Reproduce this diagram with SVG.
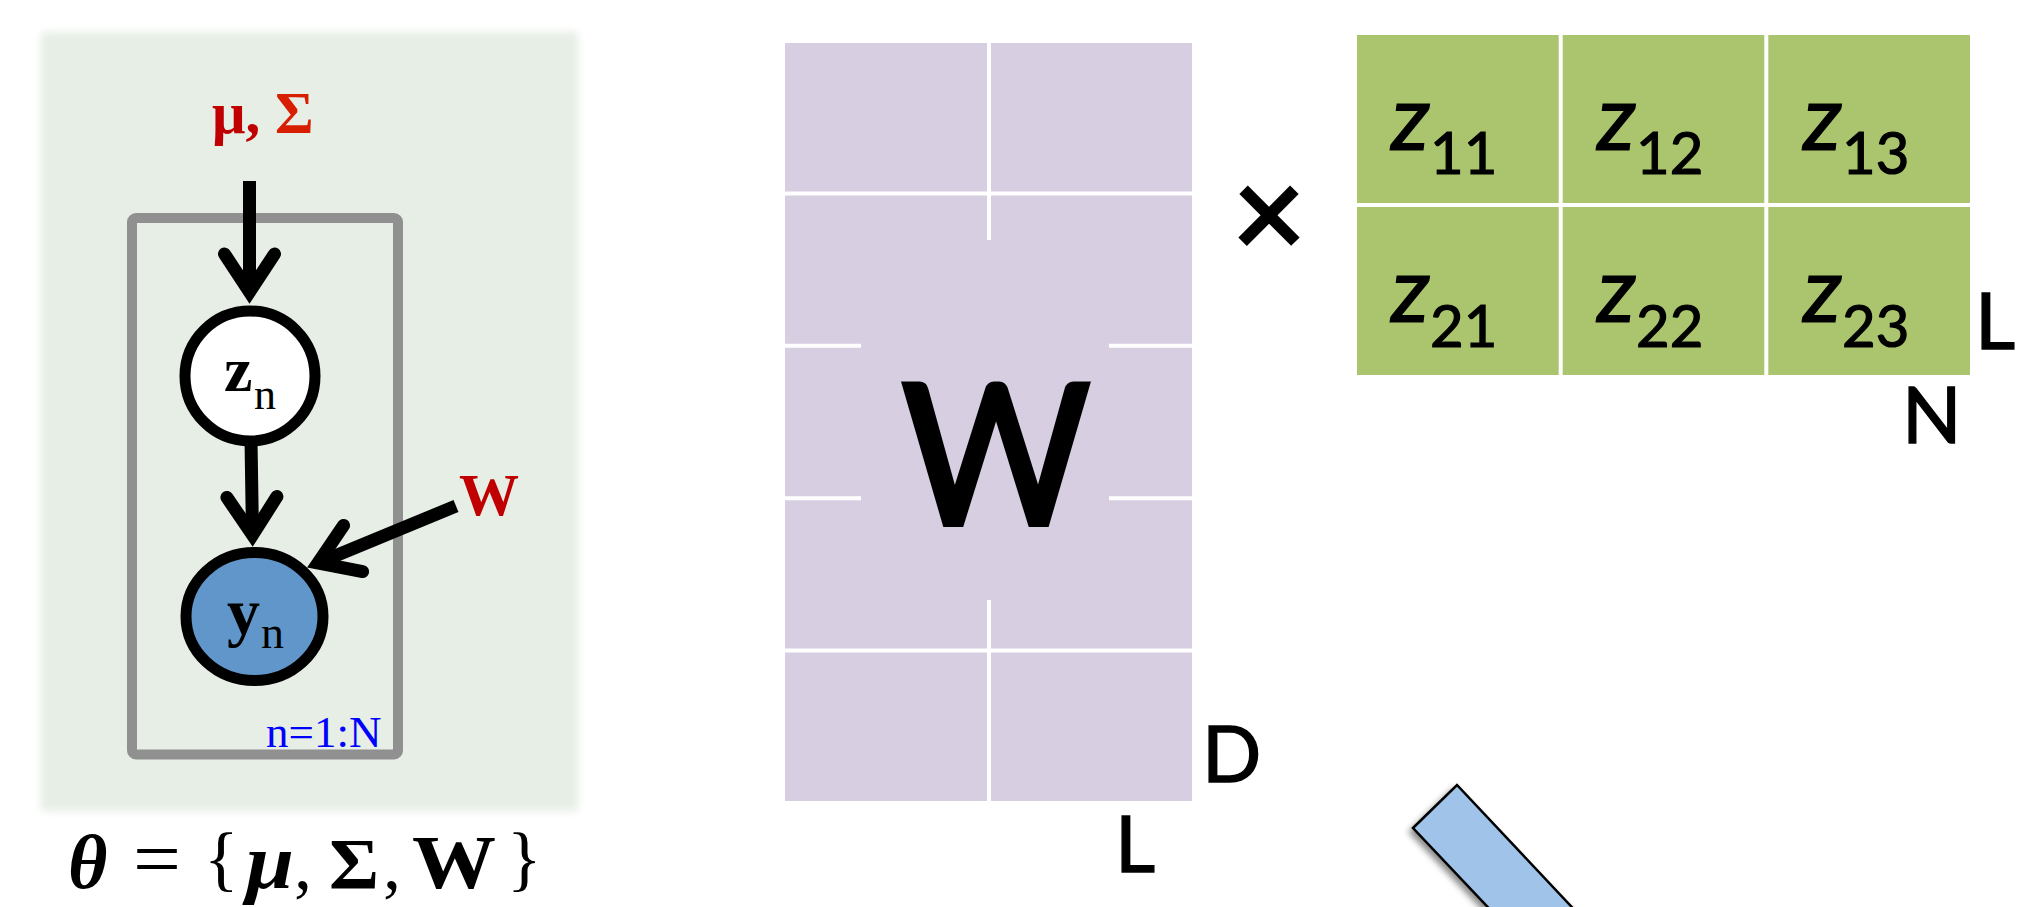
<svg xmlns="http://www.w3.org/2000/svg" width="2026" height="907" viewBox="0 0 2026 907">
<style>
.serif{font-family:"Liberation Serif","Times New Roman",serif}
.sans{font-family:Lato,"Open Sans","Liberation Sans",sans-serif}
.conn{stroke:#000;stroke-width:13;fill:none;marker-end:url(#chev)}
.cell-w{fill:#d7cee1}
.cell-z{fill:#abc46e}
.div{stroke:#fff;stroke-width:4}
.zlab{font-size:92px;font-style:italic;fill:#000;stroke:#000;stroke-width:1.2}
.sub{font-size:58px;font-style:normal}
.dim{font-size:78px;fill:#000;stroke:#000;stroke-width:1.4}
</style>
<defs>
<marker id="chev" markerUnits="userSpaceOnUse" orient="auto" refX="0" refY="0" markerWidth="100" markerHeight="100" viewBox="-60 -50 100 100" overflow="visible">
<path d="M-38,-25 L0,0 L-38,25" fill="none" stroke="#000" stroke-width="13" stroke-linecap="round" stroke-linejoin="miter"/>
</marker>
<filter id="soft" x="-5%" y="-5%" width="110%" height="110%"><feGaussianBlur stdDeviation="4"/></filter>
<filter id="shadow" x="-20%" y="-20%" width="140%" height="140%"><feDropShadow dx="-3" dy="4" stdDeviation="3" flood-color="#000" flood-opacity="0.45"/></filter>
</defs>
<rect width="2026" height="907" fill="#fff"/>

<!-- left graphical model -->
<rect id="panel-bg" x="41" y="32" width="537" height="779" fill="#e6eee5" filter="url(#soft)"/>
<g id="plate">
<rect x="132" y="218" width="266" height="536.5" rx="4" fill="none" stroke="#909090" stroke-width="10"/>
<text class="serif" x="266" y="747" font-size="45" fill="#0000ff">n=1:N</text>
</g>
<g id="connectors">
<line class="conn" x1="249.5" y1="181" x2="249.5" y2="292"/>
<line class="conn" x1="251" y1="440" x2="252.5" y2="535"/>
<line class="conn" x1="456" y1="506" x2="318" y2="563"/>
</g>
<g id="node-musigma">
<text class="serif" x="212" y="133" font-size="59" font-weight="bold"><tspan fill="#c00000">μ,</tspan><tspan fill="#d81e00"> Σ</tspan></text>
</g>
<g id="node-W">
<text class="serif" x="459" y="515" font-size="60" font-weight="bold" fill="#c00000">W</text>
</g>
<g id="node-z">
<circle cx="250" cy="376" r="65" fill="#fff" stroke="#000" stroke-width="11"/>
<text class="serif" x="224" y="391" font-size="64" font-weight="bold" fill="#000">z</text>
<text class="serif" x="254" y="409" font-size="44" fill="#000">n</text>
</g>
<g id="node-y">
<ellipse cx="254.5" cy="616.5" rx="68.5" ry="64" fill="#6096c9" stroke="#000" stroke-width="11"/>
<text class="serif" x="227" y="634" font-size="66" font-weight="bold" fill="#000">y</text>
<text class="serif" x="261" y="648" font-size="46" fill="#000">n</text>
</g>
<g id="formula" class="serif" fill="#000" font-size="72">
<text x="68" y="888" font-weight="bold" font-style="italic" font-size="76">θ</text>
<text x="133" y="886" font-size="80" textLength="48" lengthAdjust="spacingAndGlyphs">=</text>
<text x="204" y="882">{</text>
<text x="246" y="888" font-weight="bold" font-style="italic" font-size="78" textLength="48" lengthAdjust="spacingAndGlyphs">μ</text>
<text x="294" y="888">,</text>
<text x="329" y="888" font-weight="bold" textLength="50" lengthAdjust="spacingAndGlyphs">Σ</text>
<text x="383" y="888">,</text>
<text x="412" y="888" font-weight="bold" font-size="76" textLength="84" lengthAdjust="spacingAndGlyphs">W</text>
<text x="507" y="882">}</text>
</g>

<!-- W matrix -->
<g id="matrix-W">
<rect class="cell-w" x="785" y="43" width="407" height="758"/>
<line class="div" x1="785" y1="193.4" x2="1192" y2="193.4"/>
<line class="div" x1="785" y1="650.6" x2="1192" y2="650.6"/>
<line class="div" x1="785" y1="345.8" x2="861" y2="345.8"/>
<line class="div" x1="1109" y1="345.8" x2="1192" y2="345.8"/>
<line class="div" x1="785" y1="498.2" x2="861" y2="498.2"/>
<line class="div" x1="1109" y1="498.2" x2="1192" y2="498.2"/>
<line class="div" x1="989" y1="43" x2="989" y2="240"/>
<line class="div" x1="989" y1="600" x2="989" y2="801"/>
<text class="sans" x="902" y="524" font-size="194" textLength="188" lengthAdjust="spacingAndGlyphs" fill="#000" stroke="#000" stroke-width="6" stroke-linejoin="miter">W</text>
<text class="sans dim" x="1202" y="782">D</text>
<text class="sans dim" x="1115" y="872">L</text>
</g>

<g id="times">
<text class="sans" x="1269" y="259" font-size="130" font-weight="bold" text-anchor="middle" fill="#000">×</text>
</g>

<!-- Z matrix -->
<g id="matrix-Z" class="sans">
<rect class="cell-z" x="1357" y="35" width="201.7" height="168"/>
<rect class="cell-z" x="1562.7" y="35" width="201.6" height="168"/>
<rect class="cell-z" x="1768.3" y="35" width="201.7" height="168"/>
<rect class="cell-z" x="1357" y="207" width="201.7" height="168"/>
<rect class="cell-z" x="1562.7" y="207" width="201.6" height="168"/>
<rect class="cell-z" x="1768.3" y="207" width="201.7" height="168"/>
<text class="zlab" x="1391" y="150">z<tspan class="sub" dy="24">11</tspan></text>
<text class="zlab" x="1597" y="150">z<tspan class="sub" dy="24">12</tspan></text>
<text class="zlab" x="1803" y="150">z<tspan class="sub" dy="24">13</tspan></text>
<text class="zlab" x="1391" y="322">z<tspan class="sub" dy="25">21</tspan></text>
<text class="zlab" x="1597" y="322">z<tspan class="sub" dy="25">22</tspan></text>
<text class="zlab" x="1803" y="322">z<tspan class="sub" dy="25">23</tspan></text>
<text class="dim" x="1975" y="349">L</text>
<text class="dim" x="1902" y="443">N</text>
</g>

<!-- blue bar -->
<polygon id="bar" points="1413,828 1457,785 1584,920 1500,920" fill="#9fc3e9" stroke="#000" stroke-width="2.5" stroke-linejoin="miter" filter="url(#shadow)"/>
</svg>
